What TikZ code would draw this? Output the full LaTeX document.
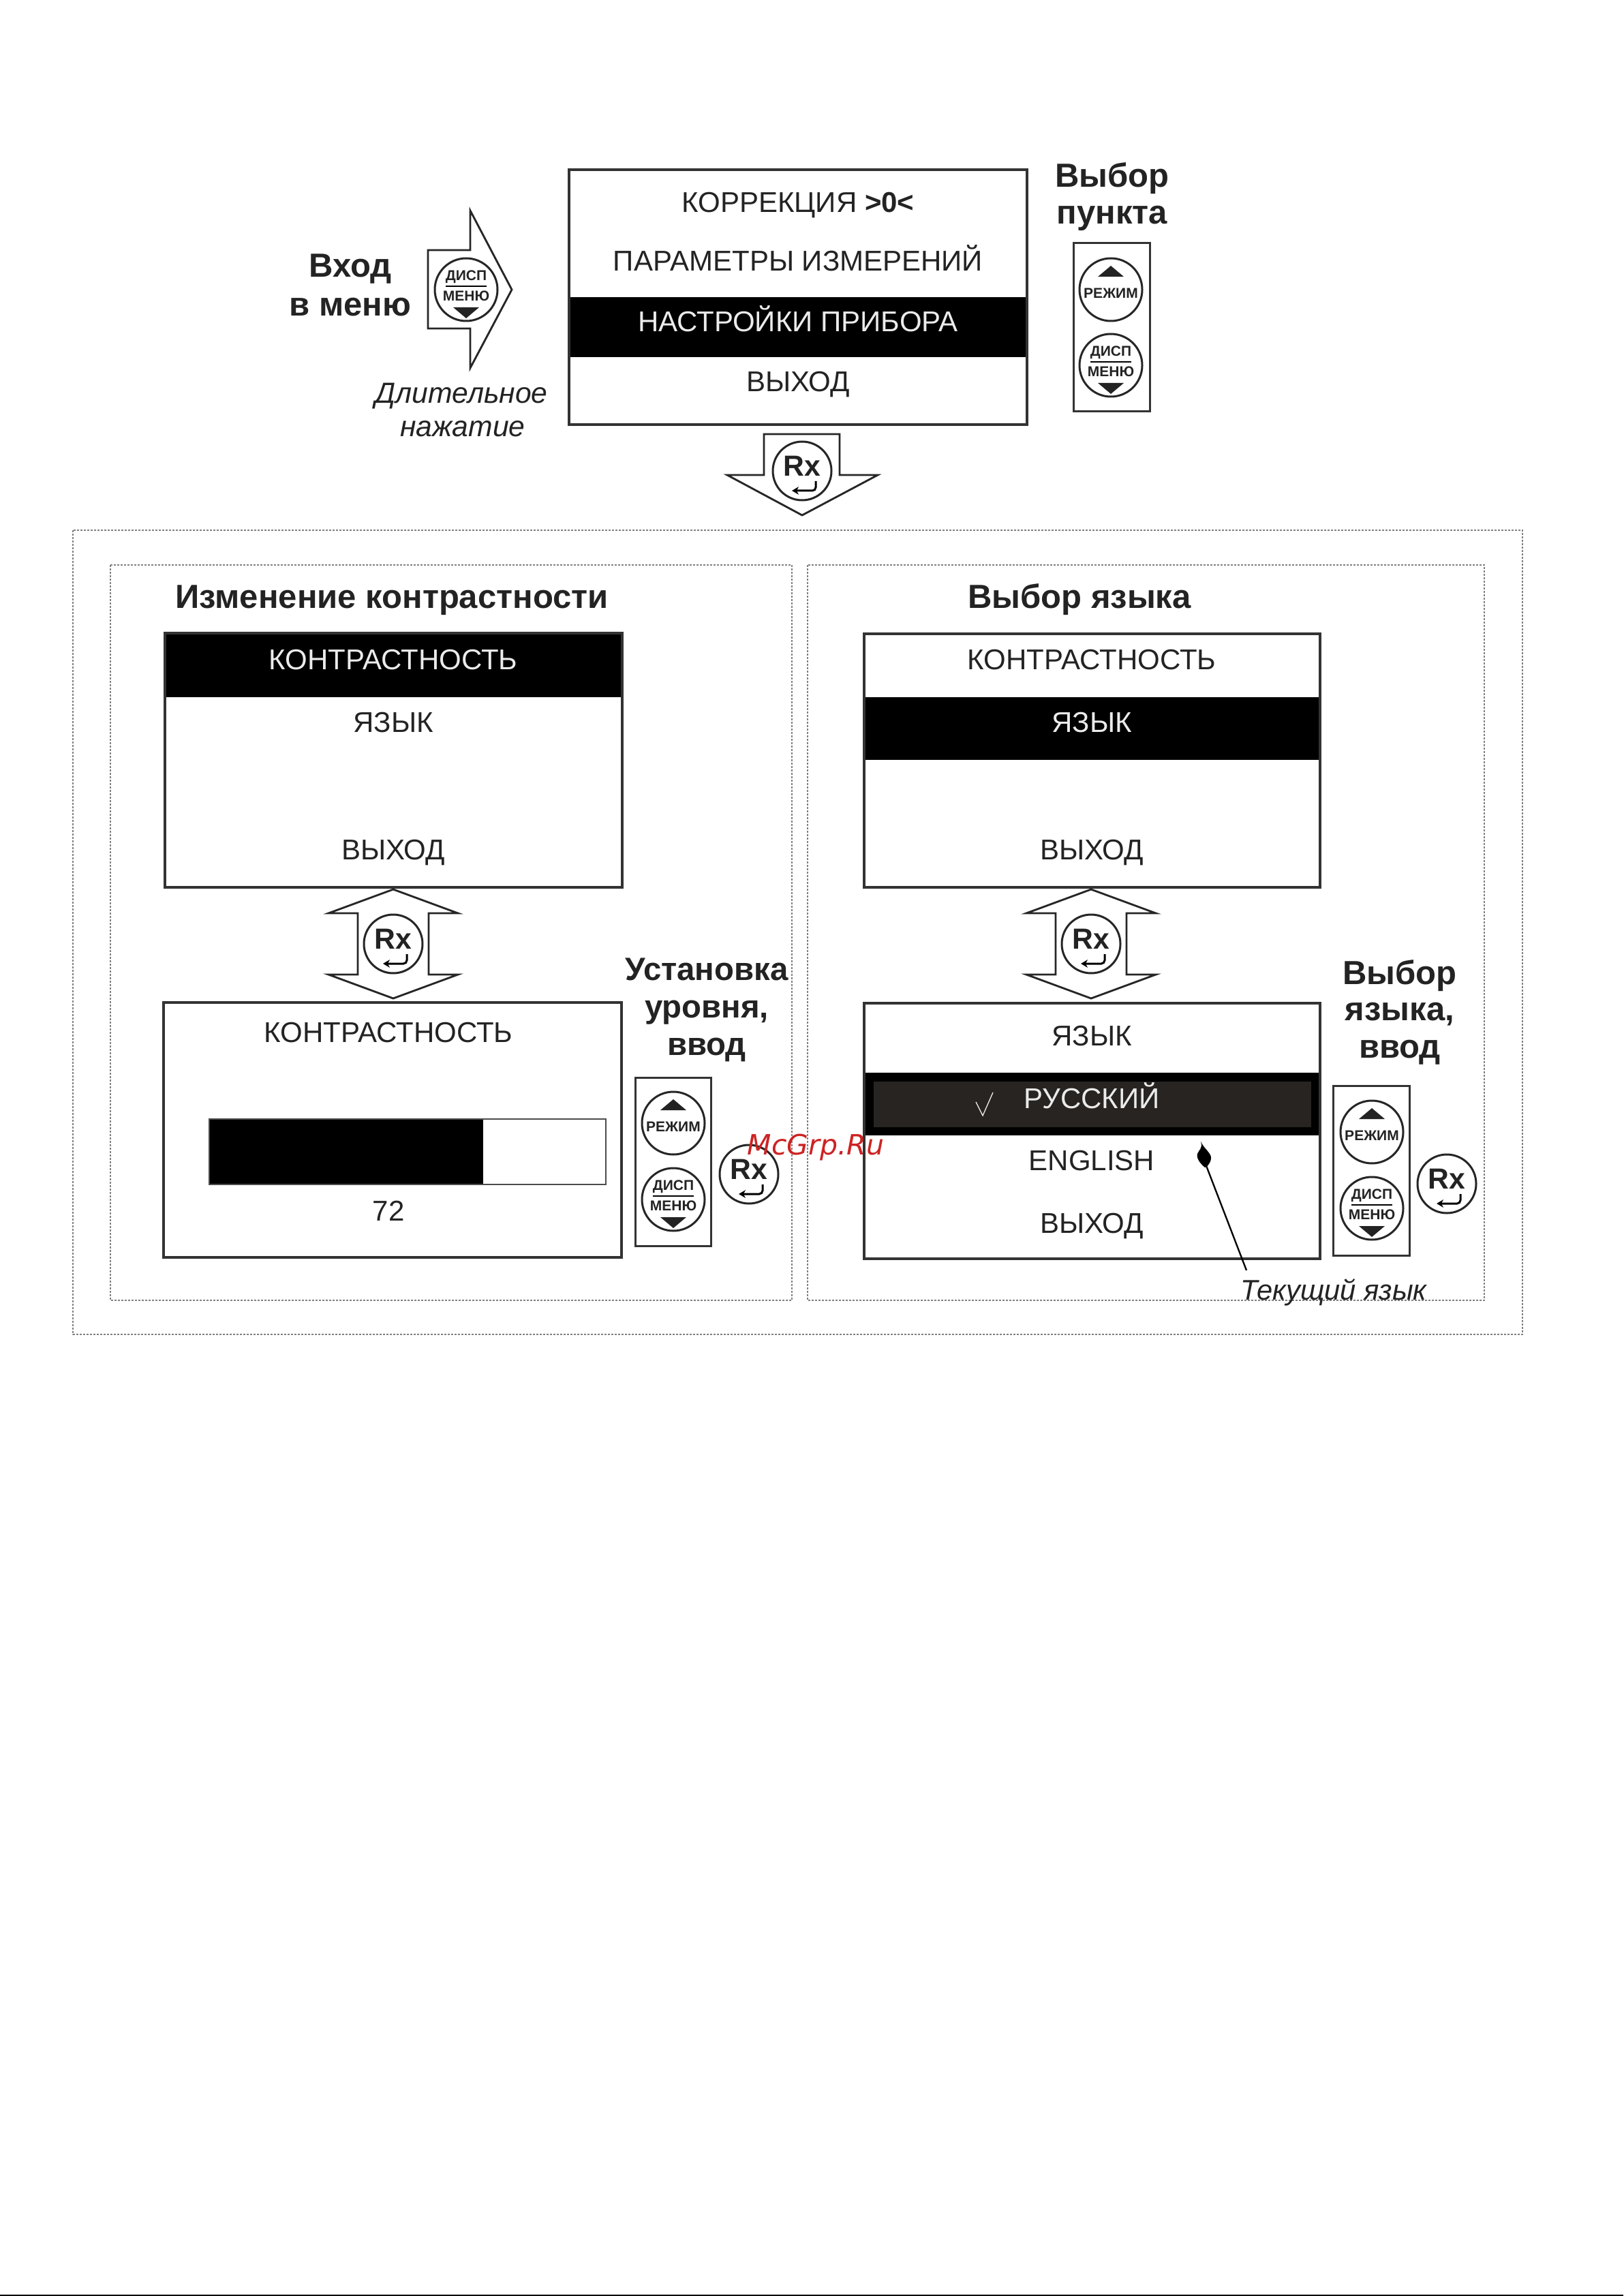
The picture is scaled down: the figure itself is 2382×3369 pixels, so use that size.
\documentclass[tikz,border=0pt]{standalone}
\usepackage{fontspec}
\setmainfont{Liberation Sans}
\newfontfamily\wmfont{DejaVu Sans}
\usepackage{xcolor}
\usetikzlibrary{arrows.meta}
\definecolor{bandgrey}{RGB}{40,36,33}
\definecolor{inkgrey}{RGB}{35,35,35}
\definecolor{wmred}{RGB}{205,35,35}
\newcommand{\fs}[1]{\fontsize{#1}{#1}\selectfont}
\newcommand{\modebtn}[3]{% up key
  \node[keybtn] (#1) at (#2,#3) {};
  \fill[inkgrey] ([shift={(0,-35)}]#1.center) -- ([shift={(19,-19)}]#1.center) -- ([shift={(-19,-19)}]#1.center) -- cycle;
  \node[keytxt] (#1t) at ([shift={(0,5)}]#1.center) {РЕЖИМ};}
\newcommand{\dispbtn}[3]{% down key
  \node[keybtn] (#1) at (#2,#3) {};
  \node[keytxt] (#1a) at ([shift={(0,-19)}]#1.center) {ДИСП};
  \draw[line width=0.5pt] ([shift={(-30,-5)}]#1.center) -- ([shift={(30,-5)}]#1.center);
  \node[keytxt] (#1b) at ([shift={(0,9)}]#1.center) {МЕНЮ};
  \fill[inkgrey] ([shift={(0,42)}]#1.center) -- ([shift={(19,26)}]#1.center) -- ([shift={(-19,26)}]#1.center) -- cycle;}
\newcommand{\rxbtn}[3]{% enter key
  \node[keybtn,minimum size=25.8pt] (#1) at (#2,#3) {};
  \node[font=\fs{12.8}\bfseries,text=inkgrey,inner sep=0pt,text height=9.2pt,text depth=0pt] (#1t) at ([shift={(0,-8)}]#1.center) {Rx};
  \draw[line width=0.9pt,rounded corners=1.5pt,-{Stealth[length=3pt,width=3.5pt]}]
    ([shift={(20,15)}]#1.center) -- ([shift={(20,29)}]#1.center) -- ([shift={(-15,29)}]#1.center);}
\newcommand{\updown}[2]{% double block arrow, centre x and top y
  \draw[blockline] (#1,#2) -- ++(95,35) -- ++(-43,0) -- ++(0,90) -- ++(43,0) -- ++(-95,35)
    -- ++(-95,-35) -- ++(43,0) -- ++(0,-90) -- ++(-43,0) -- cycle;}
\begin{document}
\begin{tikzpicture}[x=0.3pt,y=-0.3pt,
    screenline/.style={line width=1.15pt,draw=black!80},
    blockline/.style={line width=0.85pt,draw=black!85,fill=white,line join=miter},
    panelline/.style={line width=0.9pt,draw=black!80},
    dotline/.style={line width=0.8pt,draw=black!50,dash pattern=on 0.85pt off 0.65pt},
    keybtn/.style={circle,draw=black!85,line width=0.9pt,minimum size=27.6pt,inner sep=0pt},
    keytxt/.style={font=\fs{6.3}\bfseries,text=inkgrey,inner sep=0pt},
    menutxt/.style={font=\fs{12.6},text=inkgrey,inner sep=0pt,text height=9pt,text depth=0pt},
    invtxt/.style={font=\fs{12.6},text=black!8,inner sep=0pt,text height=9pt,text depth=0pt},
    headtxt/.style={font=\fs{14.7}\bfseries,text=inkgrey,inner sep=0pt,text height=10.2pt,text depth=0pt},
    notetxt/.style={font=\fs{12.8}\itshape,text=inkgrey,inner sep=0pt,text height=9.2pt,text depth=0pt}]
\useasboundingbox (0,0) rectangle (2382,3369);
\fill[white] (0,0) rectangle (2382,3369);
\draw[line width=0.6pt] (0,3368) -- (2382,3368);

% ---- dotted frames
\draw[dotline] (107,778) rectangle (2234,1958);
\draw[dotline] (162,829) rectangle (1162,1908);
\draw[dotline] (1185,829) rectangle (2178,1908);

% ---- entry arrow
\draw[blockline] (628,367) -- (690,367) -- (690,309) -- (751,425) -- (690,540) -- (690,482) -- (628,482) -- cycle;
\dispbtn{entrydisp}{684}{425}
\node[headtxt] (entryA) at (514,390) {Вход};
\node[headtxt] (entryB) at (514,447) {в меню};
\node[notetxt] (longA) at (677,576) {Длительное};
\node[notetxt] (longB) at (679,625) {нажатие};

% ---- main menu
\fill[black] (835,436) rectangle (1507,524);
\draw[screenline] (835,249) rectangle (1507,623);
\node[menutxt] (mainA) at (1171,297) {КОРРЕКЦИЯ \textbf{>0<}};
\node[menutxt] (mainB) at (1171,383) {ПАРАМЕТРЫ ИЗМЕРЕНИЙ};
\node[invtxt] (mainC) at (1171,472) {НАСТРОЙКИ ПРИБОРА};
\node[menutxt] (mainD) at (1171,560) {ВЫХОД};
\node[headtxt] (pickA) at (1632,258) {Выбор};
\node[headtxt] (pickB) at (1632,312) {пункта};
\draw[panelline] (1575,357) rectangle (1687,604);
\modebtn{pickmode}{1630}{425}
\dispbtn{pickdisp}{1630}{536}

% ---- enter arrow
\draw[blockline] (1121,637) -- (1232,637) -- (1232,697) -- (1288,697) -- (1177,756) -- (1067,697) -- (1121,697) -- cycle;
\rxbtn{mainrx}{1177}{691}

% ---- contrast
\node[headtxt] (contT) at (575,875) {Изменение контрастности};
\fill[black] (242,929) rectangle (913,1023);
\draw[screenline] (242,929) rectangle (913,1302);
\node[invtxt] (contA) at (577,967) {КОНТРАСТНОСТЬ};
\node[menutxt] (contB) at (577,1059) {ЯЗЫК};
\node[menutxt] (contC) at (577,1246) {ВЫХОД};
\updown{577}{1305}
\rxbtn{contrx}{577}{1385}
\draw[screenline] (240,1471) rectangle (912,1845);
\node[menutxt] (levelA) at (570,1514) {КОНТРАСТНОСТЬ};
\fill[black] (307,1642) rectangle (709,1738);
\draw[line width=0.5pt,draw=black!70] (307,1642) rectangle (889,1738);
\node[menutxt] (levelB) at (570,1776) {72};
\node[headtxt,font=\fs{14.2}\bfseries] (setA) at (1037,1421) {Установка};
\node[headtxt,font=\fs{14.2}\bfseries] (setB) at (1037,1476) {уровня,};
\node[headtxt,font=\fs{14.2}\bfseries] (setC) at (1037,1531) {ввод};
\draw[panelline] (932,1581) rectangle (1043,1828);
\modebtn{setmode}{988}{1648}
\dispbtn{setdisp}{988}{1760}
\rxbtn{setrx}{1099}{1723}

% ---- language
\node[headtxt] (langT) at (1584,875) {Выбор языка};
\fill[black] (1268,1023) rectangle (1937,1115);
\draw[screenline] (1268,930) rectangle (1937,1302);
\node[menutxt] (langA) at (1602,967) {КОНТРАСТНОСТЬ};
\node[invtxt] (langB) at (1602,1059) {ЯЗЫК};
\node[menutxt] (langC) at (1602,1246) {ВЫХОД};
\updown{1601}{1305}
\rxbtn{langrx}{1601}{1385}
\fill[black] (1268,1574) rectangle (1937,1666);
\fill[bandgrey] (1282,1587) rectangle (1924,1654);
\draw[screenline] (1268,1472) rectangle (1937,1847);
\node[menutxt] (listA) at (1602,1519) {ЯЗЫК};
\node[invtxt] (listB) at (1602,1611) {РУССКИЙ};
\draw[line width=0.4pt,draw=black!8] (1432,1617) -- (1442,1637) -- (1457,1603);
\node[menutxt] (listC) at (1602,1702) {ENGLISH};
\node[menutxt] (listD) at (1602,1794) {ВЫХОД};
\node[headtxt] (chooseA) at (2054,1427) {Выбор};
\node[headtxt] (chooseB) at (2054,1480) {языка,};
\node[headtxt] (chooseC) at (2054,1535) {ввод};
\draw[panelline] (1956,1593) rectangle (2068,1842);
\modebtn{choosemode}{2013}{1661}
\dispbtn{choosedisp}{2013}{1773}
\rxbtn{chooserx}{2123}{1737}

% ---- current language note
\node[notetxt,font=\fs{12.5}\itshape] (curlang) at (1957,1892) {Текущий язык};
\coordinate (curtip) at (1769,1708);
\coordinate (curleg) at (1829,1864);
\fill[black] (1762,1675) .. controls (1766,1685) and (1778,1692) .. (1777,1700)
  .. controls (1776,1708) and (1770,1713) .. (1768,1713)
  .. controls (1762,1708) and (1755,1700) .. (1757,1693)
  .. controls (1759,1687) and (1765,1686) .. cycle;
\draw[line width=0.7pt] (curtip) -- (curleg);

% ---- stamp
\node[font=\wmfont\itshape\fs{12.3},text=wmred,inner sep=0pt,text height=8.7pt,text depth=0pt] (stamp) at (1197,1680) {McGrp.Ru};
\end{tikzpicture}
\end{document}
